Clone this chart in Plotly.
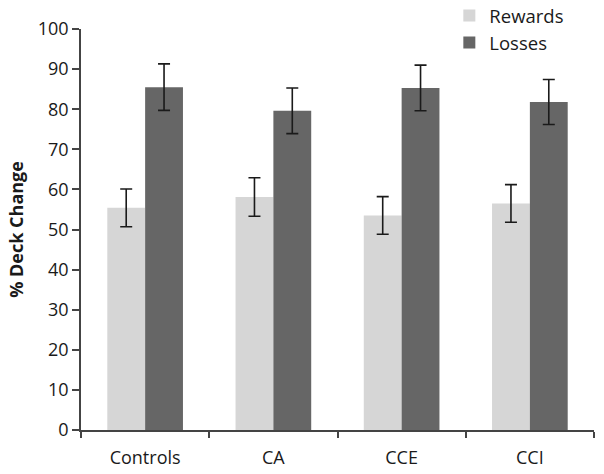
import plotly.graph_objects as go

groups = ['Controls', 'CA', 'CCE', 'CCI']
rewards = [55.4, 58.1, 53.5, 56.5]
rewards_err = [4.7, 4.8, 4.7, 4.7]
losses = [85.5, 79.6, 85.3, 81.8]
losses_err = [5.8, 5.7, 5.7, 5.6]

fig = go.Figure()

fig.add_trace(go.Bar(
    x=groups,
    y=rewards,
    name='Rewards',
    marker=dict(color='#d6d6d6', line=dict(width=0)),
    error_y=dict(type='data', array=rewards_err, color='#1a1a1a', thickness=1.6, width=6)
))

fig.add_trace(go.Bar(
    x=groups,
    y=losses,
    name='Losses',
    marker=dict(color='#666666', line=dict(width=0)),
    error_y=dict(type='data', array=losses_err, color='#1a1a1a', thickness=1.6, width=6)
))

fig.update_layout(
    width=604,
    height=474,
    margin=dict(l=81, r=10, t=29, b=44, autoexpand=False),
    barmode='group',
    bargap=0.41,
    bargroupgap=0,
    plot_bgcolor='white',
    paper_bgcolor='white',
    font=dict(family='Open Sans, Arial, sans-serif', size=18, color='#1a1a1a'),
    legend=dict(
        x=0.718, y=1.08, xanchor='left', yanchor='top',
        bgcolor='rgba(0,0,0,0)',
        font=dict(size=18.5),
        itemwidth=30,
        tracegroupgap=0
    ),
    showlegend=True
)

fig.update_xaxes(
    showline=True, linecolor='#444444', linewidth=1.5,
    ticks='outside', tickson='boundaries', ticklen=6, tickcolor='#444444', tickwidth=1.5,
    ticklabelstandoff=11,
    showgrid=False, automargin=False
)
fig.update_yaxes(
    range=[0, 100], dtick=10,
    showline=True, linecolor='#444444', linewidth=1.5,
    ticks='outside', ticklen=7, tickcolor='#444444', tickwidth=1.5,
    showgrid=False, zeroline=False, automargin=False,
    title=dict(text='<b>% Deck Change</b>', font=dict(size=18), standoff=9)
)

# drop the page's default body margin so the figure sits at the window corner
fig.write_html("out.html", config={'displayModeBar': False},
               post_script="document.body.style.margin='0';")
